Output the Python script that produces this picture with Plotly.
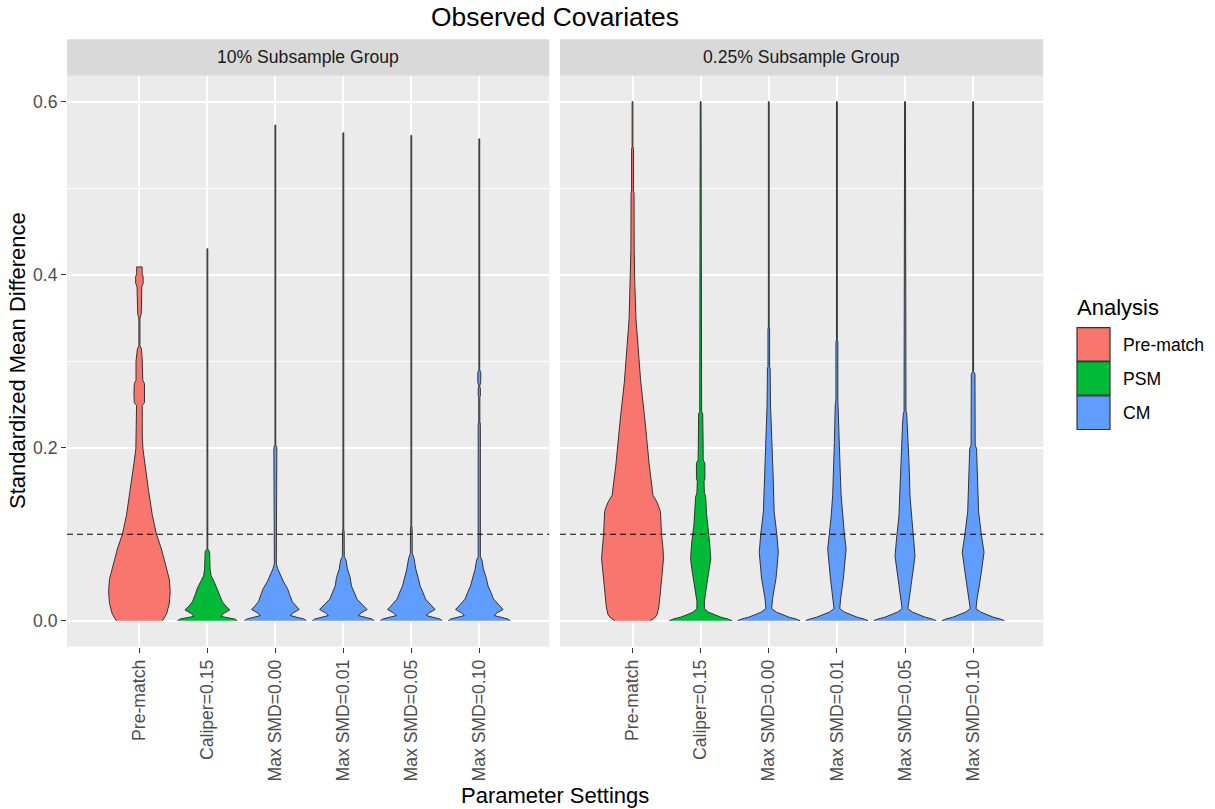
import plotly.graph_objects as go

# ---------------- data ----------------
categories = ["Pre-match", "Caliper=0.15", "Max SMD=0.00", "Max SMD=0.01", "Max SMD=0.05", "Max SMD=0.10"]
analysis_of_category = ["Pre-match", "PSM", "CM", "CM", "CM", "CM"]
panels = ["10% Subsample Group", "0.25% Subsample Group"]
analysis_levels = ["Pre-match", "PSM", "CM"]
analysis_colors = {"Pre-match": "#F8766D", "PSM": "#00BA38", "CM": "#619CFF"}
smd_threshold = 0.1
y_ticks = [0.0, 0.2, 0.4, 0.6]

# violin outlines: SMD level and half-width of the density (category units)
p10_prematch_smd = [0.000, 0.008, 0.020, 0.034, 0.048, 0.060, 0.072, 0.084, 0.100, 0.122, 0.153, 0.183, 0.199, 0.215, 0.249, 0.252, 0.262, 0.274, 0.278, 0.300, 0.304, 0.314, 0.318, 0.350, 0.354, 0.364, 0.386, 0.390, 0.398, 0.401, 0.409]
p10_prematch_dens = [0.340, 0.400, 0.440, 0.453, 0.440, 0.400, 0.360, 0.320, 0.250, 0.190, 0.130, 0.078, 0.052, 0.042, 0.042, 0.075, 0.080, 0.075, 0.050, 0.050, 0.040, 0.030, 0.008, 0.008, 0.025, 0.030, 0.035, 0.055, 0.055, 0.040, 0.040]

p10_psm_smd = [0.000, 0.002, 0.005, 0.008, 0.0125, 0.017, 0.022, 0.030, 0.037, 0.045, 0.052, 0.060, 0.080, 0.083, 0.430]
p10_psm_dens = [0.440, 0.400, 0.200, 0.230, 0.330, 0.270, 0.220, 0.180, 0.150, 0.100, 0.055, 0.040, 0.032, 0.006, 0.006]

p10_cm000_smd = [0.000, 0.002, 0.006, 0.009, 0.013, 0.017, 0.022, 0.030, 0.037, 0.045, 0.050, 0.055, 0.060, 0.066, 0.176, 0.180, 0.200, 0.203, 0.573]
p10_cm000_dens = [0.455, 0.420, 0.220, 0.260, 0.350, 0.300, 0.250, 0.210, 0.180, 0.120, 0.090, 0.060, 0.035, 0.014, 0.014, 0.022, 0.022, 0.006, 0.006]

p10_cm001_smd = [0.000, 0.002, 0.006, 0.009, 0.013, 0.017, 0.025, 0.033, 0.040, 0.050, 0.060, 0.070, 0.074, 0.103, 0.106, 0.564]
p10_cm001_dens = [0.455, 0.420, 0.220, 0.260, 0.350, 0.300, 0.200, 0.160, 0.120, 0.100, 0.060, 0.040, 0.014, 0.012, 0.006, 0.006]

p10_cm005_smd = [0.000, 0.002, 0.006, 0.009, 0.013, 0.017, 0.025, 0.033, 0.040, 0.050, 0.060, 0.072, 0.078, 0.107, 0.110, 0.561]
p10_cm005_dens = [0.455, 0.420, 0.220, 0.260, 0.350, 0.300, 0.210, 0.170, 0.130, 0.100, 0.065, 0.040, 0.014, 0.012, 0.006, 0.006]

p10_cm010_smd = [0.000, 0.002, 0.006, 0.009, 0.013, 0.017, 0.025, 0.033, 0.040, 0.050, 0.060, 0.070, 0.074, 0.227, 0.230, 0.258, 0.260, 0.268, 0.271, 0.276, 0.287, 0.290, 0.557]
p10_cm010_dens = [0.455, 0.420, 0.220, 0.260, 0.350, 0.300, 0.210, 0.170, 0.130, 0.100, 0.060, 0.040, 0.016, 0.016, 0.008, 0.008, 0.016, 0.016, 0.006, 0.022, 0.022, 0.006, 0.006]

p025_prematch_smd = [0.000, 0.003, 0.007, 0.016, 0.030, 0.045, 0.060, 0.072, 0.085, 0.100, 0.126, 0.131, 0.137, 0.145, 0.180, 0.237, 0.276, 0.318, 0.349, 0.392, 0.430, 0.494, 0.497, 0.545, 0.548, 0.600]
p025_prematch_dens = [0.260, 0.320, 0.360, 0.385, 0.405, 0.420, 0.440, 0.455, 0.445, 0.425, 0.410, 0.390, 0.360, 0.300, 0.245, 0.175, 0.120, 0.080, 0.050, 0.032, 0.024, 0.022, 0.014, 0.014, 0.006, 0.006]

p025_psm_smd = [0.000, 0.002, 0.004, 0.007, 0.010, 0.014, 0.022, 0.045, 0.060, 0.072, 0.091, 0.110, 0.125, 0.143, 0.148, 0.161, 0.165, 0.182, 0.186, 0.199, 0.239, 0.242, 0.586, 0.589, 0.600]
p025_psm_dens = [0.460, 0.400, 0.300, 0.200, 0.110, 0.056, 0.054, 0.096, 0.130, 0.148, 0.130, 0.100, 0.085, 0.074, 0.055, 0.049, 0.062, 0.062, 0.037, 0.037, 0.030, 0.014, 0.014, 0.006, 0.006]

p025_cm000_smd = [0.000, 0.002, 0.004, 0.007, 0.010, 0.014, 0.026, 0.049, 0.079, 0.100, 0.126, 0.168, 0.214, 0.250, 0.291, 0.294, 0.337, 0.340, 0.600]
p025_cm000_dens = [0.460, 0.400, 0.300, 0.200, 0.110, 0.042, 0.056, 0.106, 0.140, 0.118, 0.079, 0.064, 0.042, 0.025, 0.020, 0.012, 0.012, 0.006, 0.006]

p025_cm001_smd = [0.000, 0.002, 0.004, 0.007, 0.010, 0.014, 0.026, 0.049, 0.083, 0.100, 0.120, 0.145, 0.170, 0.206, 0.250, 0.255, 0.322, 0.325, 0.600]
p025_cm001_dens = [0.460, 0.400, 0.300, 0.200, 0.110, 0.042, 0.055, 0.095, 0.135, 0.110, 0.085, 0.062, 0.050, 0.037, 0.024, 0.014, 0.014, 0.006, 0.006]

p025_cm005_smd = [0.000, 0.002, 0.004, 0.007, 0.010, 0.014, 0.026, 0.049, 0.075, 0.100, 0.120, 0.143, 0.182, 0.226, 0.239, 0.242, 0.391, 0.394, 0.600]
p025_cm005_dens = [0.460, 0.400, 0.300, 0.200, 0.110, 0.042, 0.060, 0.103, 0.147, 0.118, 0.090, 0.074, 0.059, 0.037, 0.025, 0.014, 0.014, 0.006, 0.006]

p025_cm010_smd = [0.000, 0.002, 0.004, 0.007, 0.010, 0.014, 0.024, 0.045, 0.079, 0.100, 0.126, 0.160, 0.199, 0.203, 0.285, 0.288, 0.600]
p025_cm010_dens = [0.460, 0.400, 0.300, 0.200, 0.110, 0.042, 0.055, 0.100, 0.160, 0.120, 0.080, 0.066, 0.050, 0.030, 0.027, 0.006, 0.006]

violins = [
    [(p10_prematch_smd, p10_prematch_dens), (p10_psm_smd, p10_psm_dens),
     (p10_cm000_smd, p10_cm000_dens), (p10_cm001_smd, p10_cm001_dens),
     (p10_cm005_smd, p10_cm005_dens), (p10_cm010_smd, p10_cm010_dens)],
    [(p025_prematch_smd, p025_prematch_dens), (p025_psm_smd, p025_psm_dens),
     (p025_cm000_smd, p025_cm000_dens), (p025_cm001_smd, p025_cm001_dens),
     (p025_cm005_smd, p025_cm005_dens), (p025_cm010_smd, p025_cm010_dens)],
]

# ---------------- layout helpers ----------------
W, H = 1215, 809
FONT = "Liberation Sans, Arial, sans-serif"


def px(x):
    return x / W


def py(y):
    return 1 - y / H


panel_x = [(67, 549.3), (560, 1043.3)]
panel_top, panel_bottom = 75.7, 646.7
strip_top = 39.3

fig = go.Figure()

for p in range(2):
    xa = "x" if p == 0 else "x2"
    ya = "y" if p == 0 else "y2"
    for i, (smd, dens) in enumerate(violins[p]):
        right = [i + d for d in dens]
        left = [i - d for d in reversed(dens)]
        xs = right + left
        ys = list(smd) + list(reversed(smd))
        fig.add_trace(go.Scatter(
            x=xs, y=ys, mode="lines", fill="toself",
            fillcolor=analysis_colors[analysis_of_category[i]],
            line=dict(color="#333333", width=1),
            name=analysis_of_category[i], showlegend=False,
            hoverinfo="skip", xaxis=xa, yaxis=ya,
        ))

axis_common = dict(
    showline=False, zeroline=False, gridcolor="white", gridwidth=2,
    ticks="outside", ticklen=5, tickwidth=1.2, tickcolor="#333333",
    tickfont=dict(family=FONT, size=17.6, color="#4D4D4D"),
)
x_range = [-1.065, 6.03]
y_range = [-0.03, 0.63]
ydom = [py(panel_bottom), py(panel_top)]

layout = dict(
    width=W, height=H, autosize=False,
    margin=dict(l=0, r=0, t=0, b=0),
    paper_bgcolor="white", plot_bgcolor="#EBEBEB",
    showlegend=False,
    xaxis=dict(domain=[px(panel_x[0][0]), px(panel_x[0][1])], anchor="y", range=x_range,
               tickmode="array", tickvals=list(range(len(categories))), ticktext=categories,
               tickangle=-90, **axis_common),
    xaxis2=dict(domain=[px(panel_x[1][0]), px(panel_x[1][1])], anchor="y2", range=x_range,
                tickmode="array", tickvals=list(range(len(categories))), ticktext=categories,
                tickangle=-90, **axis_common),
    yaxis=dict(domain=ydom, anchor="x", range=y_range, tickmode="array", tickvals=y_ticks,
               ticktext=[f"{v:.1f}" for v in y_ticks],
               minor=dict(tickvals=[0.1, 0.3, 0.5], showgrid=True, gridcolor="white", gridwidth=1, ticks=""),
               **axis_common),
    yaxis2=dict(domain=ydom, anchor="x2", range=y_range, matches="y", tickmode="array", tickvals=y_ticks,
                showticklabels=False, showline=False, zeroline=False, gridcolor="white", gridwidth=2, ticks="",
                minor=dict(tickvals=[0.1, 0.3, 0.5], showgrid=True, gridcolor="white", gridwidth=1, ticks="")),
)
fig.update_layout(**layout)

shapes = []
annotations = []
for p in range(2):
    xa = "x" if p == 0 else "x2"
    ya = "y" if p == 0 else "y2"
    # dashed reference line
    shapes.append(dict(type="line", xref=f"{xa} domain", x0=0, x1=1, yref=ya, y0=smd_threshold, y1=smd_threshold,
                       line=dict(color="black", width=1.2, dash="6px,4px"), layer="above"))
    # strip
    shapes.append(dict(type="rect", xref="paper", yref="paper",
                       x0=px(panel_x[p][0]), x1=px(panel_x[p][1]), y0=py(panel_top), y1=py(strip_top),
                       fillcolor="#D9D9D9", line=dict(width=0), layer="below"))
    annotations.append(dict(text=panels[p], xref="paper", yref="paper",
                            x=px((panel_x[p][0] + panel_x[p][1]) / 2), y=py((strip_top + panel_top) / 2),
                            showarrow=False, xanchor="center", yanchor="middle",
                            font=dict(family=FONT, size=17.6, color="#1A1A1A")))

# titles
annotations.append(dict(text="Observed Covariates", xref="paper", yref="paper", x=px(555), y=py(17),
                        showarrow=False, xanchor="center", yanchor="middle",
                        font=dict(family=FONT, size=26.4, color="black")))
annotations.append(dict(text="Parameter Settings", xref="paper", yref="paper", x=px(555), y=py(795),
                        showarrow=False, xanchor="center", yanchor="middle",
                        font=dict(family=FONT, size=22, color="black")))
annotations.append(dict(text="Standardized Mean Difference", xref="paper", yref="paper", x=px(17), y=py(361),
                        showarrow=False, xanchor="center", yanchor="middle", textangle=-90,
                        font=dict(family=FONT, size=22, color="black")))

# legend (manual, ggplot style)
annotations.append(dict(text="Analysis", xref="paper", yref="paper", x=px(1075), y=py(308),
                        showarrow=False, xanchor="left", yanchor="middle",
                        font=dict(family=FONT, size=22, color="black")))
key_tops = [327.7, 361.7, 396.0]
for k, lev in enumerate(analysis_levels):
    t = key_tops[k]
    shapes.append(dict(type="rect", xref="paper", yref="paper",
                       x0=px(1077), x1=px(1110), y0=py(t + 33.5), y1=py(t),
                       fillcolor=analysis_colors[lev], line=dict(color="#333333", width=1.2)))
    annotations.append(dict(text=lev, xref="paper", yref="paper", x=px(1121), y=py(t + 17),
                            showarrow=False, xanchor="left", yanchor="middle",
                            font=dict(family=FONT, size=17.6, color="black")))

fig.update_layout(shapes=shapes, annotations=annotations)
fig.write_html(
    "out.html",
    config={"displayModeBar": False},
    post_script="document.body.style.margin='0px';document.body.style.padding='0px';document.body.style.overflow='hidden';",
)
